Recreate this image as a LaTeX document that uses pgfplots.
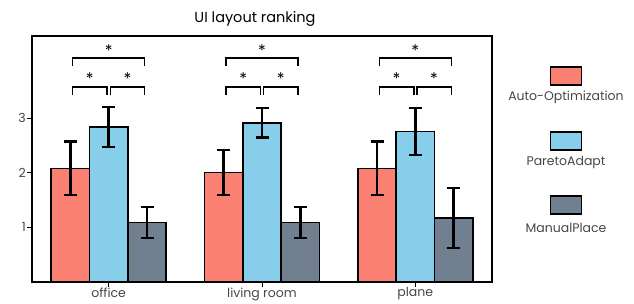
\documentclass[border=0pt]{standalone}
\usepackage{pgfplots}
\pgfplotsset{compat=1.18}
\usepackage{fontspec}
\setmainfont{Poppins}
\definecolor{cRed}{RGB}{250,128,114}
\definecolor{cBlue}{RGB}{135,206,235}
\definecolor{cGray}{RGB}{112,128,144}
\definecolor{txt}{RGB}{70,70,70}
\begin{document}
\begin{tikzpicture}[x=1pt,y=1pt]
\begin{axis}[
 at={(0,0)}, anchor=south west,
 scale only axis, width=460pt, height=246pt,
 xmin=-0.5, xmax=2.5, ymin=0, ymax=4.5,
 xtick={0,1,2}, xticklabels={office,living room,plane},
 ytick={1,2,3},
 tick align=outside, tick pos=left, major tick length=4.5pt,
 tick style={black, line width=0.9pt},
 axis line style={line width=1.1pt},
 ticklabel style={font=\fontsize{12.5}{14}\selectfont, text=txt},
 yticklabel style={inner sep=1.5pt},
 xticklabel style={inner sep=1pt},
 /pgf/number format/assume math mode=true,
 clip=false,
 ybar, bar width=0.25,
 error bars/error bar style={line width=2.4pt, black},
 error bars/error mark options={rotate=90, mark size=6.5pt, line width=2.4pt, black},
]
\addplot[fill=cRed, draw=black, line width=1.4pt, bar shift=-0.25, error bars/.cd, y dir=both, y explicit]
 coordinates {(0,2.08) +- (0,0.49) (1,2.00) +- (0,0.41) (2,2.08) +- (0,0.49)};
\addplot[fill=cBlue, draw=black, line width=1.4pt, bar shift=0, error bars/.cd, y dir=both, y explicit]
 coordinates {(0,2.835) +- (0,0.37) (1,2.91) +- (0,0.27) (2,2.75) +- (0,0.43)};
\addplot[fill=cGray, draw=black, line width=1.4pt, bar shift=0.25, error bars/.cd, y dir=both, y explicit]
 coordinates {(0,1.09) +- (0,0.28) (1,1.09) +- (0,0.28) (2,1.17) +- (0,0.55)};
% significance brackets
\draw[line width=1.4pt] (axis cs:-0.235,3.42) |- (axis cs:-0.01,3.57) -- (axis cs:-0.01,3.42);
\draw[line width=1.4pt] (axis cs:0.01,3.42) |- (axis cs:0.235,3.57) -- (axis cs:0.235,3.42);
\draw[line width=1.4pt] (axis cs:-0.235,3.96) |- (axis cs:0.235,4.10) -- (axis cs:0.235,3.96);
\draw[line width=1.4pt] (axis cs:0.765,3.42) |- (axis cs:0.99,3.57) -- (axis cs:0.99,3.42);
\draw[line width=1.4pt] (axis cs:1.01,3.42) |- (axis cs:1.235,3.57) -- (axis cs:1.235,3.42);
\draw[line width=1.4pt] (axis cs:0.765,3.96) |- (axis cs:1.235,4.10) -- (axis cs:1.235,3.96);
\draw[line width=1.4pt] (axis cs:1.765,3.42) |- (axis cs:1.99,3.57) -- (axis cs:1.99,3.42);
\draw[line width=1.4pt] (axis cs:2.01,3.42) |- (axis cs:2.235,3.57) -- (axis cs:2.235,3.42);
\draw[line width=1.4pt] (axis cs:1.765,3.96) |- (axis cs:2.235,4.10) -- (axis cs:2.235,3.96);
\node[anchor=center, font=\fontsize{16}{18}\selectfont, inner sep=0pt] at (axis cs:-0.1225,3.72) {\raisebox{-0.42em}{*}};
\node[anchor=center, font=\fontsize{16}{18}\selectfont, inner sep=0pt] at (axis cs:0.1225,3.72) {\raisebox{-0.42em}{*}};
\node[anchor=center, font=\fontsize{16}{18}\selectfont, inner sep=0pt] at (axis cs:0,4.24) {\raisebox{-0.42em}{*}};
\node[anchor=center, font=\fontsize{16}{18}\selectfont, inner sep=0pt] at (axis cs:0.8775,3.72) {\raisebox{-0.42em}{*}};
\node[anchor=center, font=\fontsize{16}{18}\selectfont, inner sep=0pt] at (axis cs:1.1225,3.72) {\raisebox{-0.42em}{*}};
\node[anchor=center, font=\fontsize{16}{18}\selectfont, inner sep=0pt] at (axis cs:1,4.24) {\raisebox{-0.42em}{*}};
\node[anchor=center, font=\fontsize{16}{18}\selectfont, inner sep=0pt] at (axis cs:1.8775,3.72) {\raisebox{-0.42em}{*}};
\node[anchor=center, font=\fontsize{16}{18}\selectfont, inner sep=0pt] at (axis cs:2.1225,3.72) {\raisebox{-0.42em}{*}};
\node[anchor=center, font=\fontsize{16}{18}\selectfont, inner sep=0pt] at (axis cs:2,4.24) {\raisebox{-0.42em}{*}};
\end{axis}
\node[font=\fontsize{14.5}{17}\selectfont] at (223,263) {UI layout ranking};
% legend
\filldraw[fill=cRed, draw=black, line width=1.4pt] (518.5,197) rectangle ++(31,18);
\node[font=\fontsize{12.5}{15}\selectfont, text=txt] at (534,184.5) {Auto-Optimization};
\filldraw[fill=cBlue, draw=black, line width=1.4pt] (518.5,132) rectangle ++(31,18);
\node[font=\fontsize{12.5}{15}\selectfont, text=txt] at (534,119.5) {ParetoAdapt};
\filldraw[fill=cGray, draw=black, line width=1.4pt] (518.5,68) rectangle ++(31,18);
\node[font=\fontsize{12.5}{15}\selectfont, text=txt] at (534,54.5) {ManualPlace};
\path[use as bounding box] (-32,-21) rectangle (602,282);
\end{tikzpicture}
\end{document}
